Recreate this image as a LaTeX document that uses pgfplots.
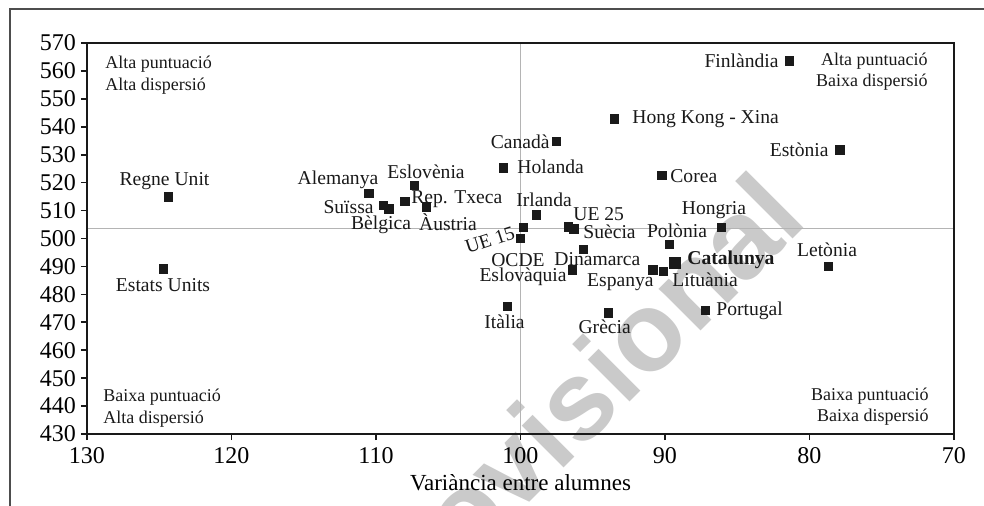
\documentclass[border=0pt]{standalone}
\usepackage{fontspec}
\setmainfont{Liberation Serif}
\newfontfamily\wmfont{Liberation Sans}
\usepackage{pgfplots}
\pgfplotsset{compat=1.18}

\definecolor{wm}{HTML}{CACACA}
\definecolor{meanline}{HTML}{B4B4B4}
\definecolor{framegray}{HTML}{4D4D4D}
\definecolor{mk}{HTML}{1A1A1A}

\tikzset{
  lab/.style={inner sep=0pt, font=\fontsize{9.8}{11}\selectfont, text=black!90},
  quad/.style={inner sep=0pt, font=\fontsize{9}{11}\selectfont, text=black!90},
}

\begin{document}
\begin{tikzpicture}
\useasboundingbox (0,0) rectangle (492pt,252.5pt);

% watermark and outer frame (pixel grid of the reference, y downwards)
\begin{scope}[x=0.5pt, y=-0.5pt, shift={(0,252.5pt)}]
  \node[rotate=45, anchor=base east, inner sep=0pt, text=wm,
        font=\wmfont\bfseries\fontsize{56}{56}\selectfont] at (810,222) {Provisional};
  \draw[framegray, line width=0.85pt] (10,520) -- (10,9) -- (1000,9);
\end{scope}

\begin{axis}[
  at={(43.5pt,35.5pt)}, anchor=south west,
  scale only axis, width=433.5pt, height=195.5pt,
  xmin=70, xmax=130, ymin=430, ymax=570, x dir=reverse,
  xtick={70,80,...,130}, ytick={430,440,...,570},
  tick align=outside, xtick pos=bottom, ytick pos=left,
  major tick length=3pt,
  axis on top,
  axis line style={line width=0.8pt, black!90},
  tick style={line width=0.8pt, black!90},
  tick label style={font=\fontsize{12}{12}\selectfont},
  yticklabel style={xshift=1pt},
  /pgf/number format/assume math mode=true,
  /pgf/number format/1000 sep={},
  xlabel={Variància entre alumnes},
  x label style={at={(axis description cs:0.5,0)}, anchor=base, yshift=-28pt,
                 font=\fontsize{11.5}{12}\selectfont},
  clip=false,
]
% means
\addplot[meanline, line width=0.75pt] coordinates {(100,430) (100,570)};
\addplot[meanline, line width=0.75pt] coordinates {(70,503.5) (130,503.5)};

\addplot[only marks, mark=square*, mark size=2.1pt, mk] coordinates {
  (81.4,563.6)   % Finlandia
  (93.5,542.8)   % Hong Kong
  (97.5,534.7)   % Canada
  (77.9,531.7)   % Estonia
  (101.2,525.3)  % Holanda
  (90.2,522.5)   % Corea
  (98.9,508.5)   % Irlanda
  (86.1,503.9)   % Hongria
  (99.8,504.0)   % UE 15
  (100.0,500.1)  % OCDE
  (96.7,504.1)   % UE 25
  (96.3,503.5)   % Suecia
  (95.65,496.2)  % Dinamarca
  (96.4,488.7)   % Eslovaquia
  (100.9,475.7)  % Italia
  (93.9,473.4)   % Grecia
  (89.7,497.8)   % Polonia
  (90.85,488.7)  % Espanya
  (90.1,488.3)   % Lituania
  (87.2,474.2)   % Portugal
  (78.7,490.0)   % Letonia
  (124.35,514.9) % Regne Unit
  (124.7,489.1)  % Estats Units
  (110.5,516.1)  % Alemanya
  (109.5,511.9)  % Suissa
  (109.1,510.6)  % Belgica
  (108.0,513.2)  % Rep. Txeca
  (107.35,519.0) % Eslovenia
  (106.5,511.3)  % Austria
};
% Catalunya
\addplot[only marks, mark=square*, mark size=2.7pt, mk] coordinates {(89.3,491.4)};
\end{axis}

% labels
\begin{scope}[x=0.5pt, y=-0.5pt, shift={(0,252.5pt)}]
  \node[lab, anchor=east] at (779,61) {Finlàndia};
  \node[lab, anchor=west] at (632,119) {Hong Kong - Xina};
  \node[lab, anchor=east] at (550,142) {Canadà};
  \node[lab, anchor=east] at (829,150) {Estònia};
  \node[lab, anchor=west] at (517,167) {Holanda};
  \node[lab, anchor=west] at (670,176) {Corea};
  \node[lab] at (544,200) {Irlanda};
  \node[lab, anchor=west] at (573,214) {UE 25};
  \node[lab, anchor=west] at (583,232) {Suècia};
  \node[lab] at (714,210) {Hongria};
  \node[lab] at (677,231) {Polònia};
  \node[lab, anchor=west, font=\fontsize{9.8}{11}\selectfont\bfseries] at (687,260) {Catalunya};
  \node[lab, anchor=west] at (672,280) {Lituània};
  \node[lab, anchor=east] at (654,282) {Espanya};
  \node[lab, anchor=west] at (554,259) {Dinamarca};
  \node[lab] at (518,260) {OCDE};
  \node[lab, anchor=east] at (567,277) {Eslovàquia};
  \node[lab] at (504.5,322) {Itàlia};
  \node[lab] at (604.7,327) {Grècia};
  \node[lab, anchor=west] at (716,311) {Portugal};
  \node[lab] at (827,250) {Letònia};
  \node[lab, rotate=18] at (490,240) {UE 15};
  \node[lab] at (164.5,181) {Regne Unit};
  \node[lab] at (163,285) {Estats Units};
  \node[lab] at (338,180) {Alemanya};
  \node[lab, anchor=east] at (374,207) {Suïssa};
  \node[lab] at (381,225) {Bèlgica};
  \node[lab] at (426,172) {Eslovènia};
  \node[lab, anchor=west] at (411,199) {Rep. Txeca};
  \node[lab] at (448,222) {Àustria};

  \node[quad, anchor=west] at (105,64) {Alta puntuació};
  \node[quad, anchor=west] at (105,86) {Alta dispersió};
  \node[quad, anchor=east] at (928,61) {Alta puntuació};
  \node[quad, anchor=east] at (928,82) {Baixa dispersió};
  \node[quad, anchor=west] at (103,397) {Baixa puntuació};
  \node[quad, anchor=west] at (103,419) {Alta dispersió};
  \node[quad, anchor=east] at (929,396) {Baixa puntuació};
  \node[quad, anchor=east] at (929,417) {Baixa dispersió};
\end{scope}
\end{tikzpicture}
\end{document}
